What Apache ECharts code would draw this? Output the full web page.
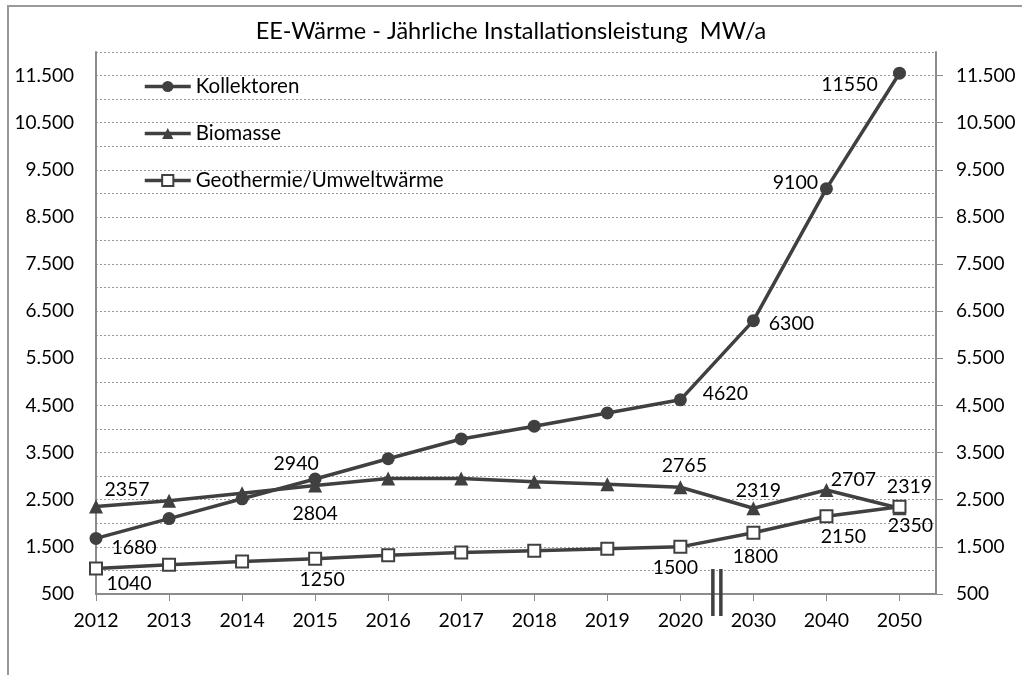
<!DOCTYPE html>
<html>
<head>
<meta charset="utf-8">
<script src="https://cdn.jsdelivr.net/npm/echarts@6/dist/echarts.min.js"></script>
<style>
  html, body { margin: 0; padding: 0; background: #fff; }
  #chart { width: 1022px; height: 675px; }
</style>
</head>
<body>
<div id="chart"></div>
<script>
const years = ['2012', '2013', '2014', '2015', '2016', '2017', '2018', '2019', '2020', '2030', '2040', '2050'];
const kollektoren = [1680, 2100, 2520, 2940, 3370, 3790, 4060, 4340, 4620, 6300, 9100, 11550];
const biomasse = [2357, 2480, 2640, 2804, 2950, 2950, 2880, 2830, 2765, 2319, 2707, 2319];
const geothermie = [1040, 1120, 1190, 1250, 1320, 1380, 1420, 1460, 1500, 1800, 2150, 2350];
const yLabelValues = [500, 1500, 2500, 3500, 4500, 5500, 6500, 7500, 8500, 9500, 10500, 11500];

// where the value labels sit, relative to the marker (px)
const kollLabels = { 0: [38, 9], 3: [-19, -15], 8: [45, -6], 9: [38, 3], 10: [-31, -6], 11: [-50, 12] };
const bioLabels = { 0: [31, -17], 3: [0, 28], 8: [4, -22], 9: [5, -18], 10: [27, -10], 11: [10, -22] };
const geoLabels = { 0: [33, 15], 3: [7, 21], 8: [-5, 21], 9: [2, 24], 10: [17, 20], 11: [11, 19] };

const FONT = 'Lato';
const DARK = '#404040';
const AXIS = '#8c8c8c';

function fmt(v) {
  return String(v).replace(/\B(?=(\d{3})+(?!\d))/g, '.');
}

function buildData(values, labels) {
  return values.map((v, i) => {
    const item = { value: [i, v] };
    if (labels[i]) {
      item.label = { show: true, position: 'inside', offset: labels[i] };
    }
    return item;
  });
}

const myChart = echarts.init(document.getElementById('chart'));

const labelStyle = { color: '#000', fontSize: 19.5, fontFamily: FONT };

const option = {
  animation: false,
  title: {
    text: 'EE-Wärme - Jährliche Installationsleistung  MW/a',
    left: 'center',
    top: 14,
    textStyle: { fontFamily: FONT, fontSize: 23.5, fontWeight: 'normal', color: '#000' },
  },
  legend: {
    orient: 'vertical',
    left: 138,
    top: 71,
    itemWidth: 46,
    itemHeight: 14,
    itemGap: 26,
    lineStyle: { width: 3.5 },
    textStyle: { fontFamily: FONT, fontSize: 20.5, color: '#000' },
    data: ['Kollektoren', 'Biomasse', 'Geothermie/Umweltwärme'],
  },
  grid: { left: 96, right: 86, top: 52, bottom: 81 },
  xAxis: {
    type: 'value',
    min: 0,
    max: 11.5,
    interval: 1,
    axisLine: { lineStyle: { color: AXIS, width: 2 } },
    axisTick: {
      show: true,
      length: 7,
      lineStyle: { color: AXIS },
      customValues: years.map((y, i) => i),
    },
    axisLabel: {
      margin: 17,
      fontFamily: FONT,
      fontSize: 19.5,
      color: '#000',
      customValues: years.map((y, i) => i),
      formatter: (v) => years[v],
    },
    splitLine: { show: false },
  },
  yAxis: [
    {
      type: 'value',
      min: 500,
      max: 12000,
      interval: 500,
      axisLine: { show: true, lineStyle: { color: AXIS, width: 2 } },
      axisTick: { show: false },
      axisLabel: {
        margin: 22,
        fontFamily: FONT,
        fontSize: 19,
        color: '#000',
        customValues: yLabelValues,
        formatter: (v) => fmt(v),
      },
      splitLine: { lineStyle: { color: '#999', type: [2, 2], width: 1 } },
    },
    {
      type: 'value',
      position: 'right',
      min: 500,
      max: 12000,
      interval: 500,
      axisLine: { show: true, lineStyle: { color: AXIS, width: 2 } },
      axisTick: { show: true, length: 7, lineStyle: { color: AXIS }, customValues: yLabelValues },
      axisLabel: {
        margin: 20,
        fontFamily: FONT,
        fontSize: 19,
        color: '#000',
        customValues: yLabelValues,
        formatter: (v) => fmt(v),
      },
      splitLine: { show: false },
    },
  ],
  series: [
    {
      name: 'Kollektoren',
      type: 'line',
      data: buildData(kollektoren, kollLabels),
      symbol: 'circle',
      symbolSize: 13,
      lineStyle: { color: DARK, width: 3.5 },
      itemStyle: { color: DARK },
      label: labelStyle,
      z: 3,
    },
    {
      name: 'Biomasse',
      type: 'line',
      data: buildData(biomasse, bioLabels),
      symbol: 'triangle',
      symbolSize: 14,
      lineStyle: { color: DARK, width: 3.5 },
      itemStyle: { color: DARK },
      label: labelStyle,
      z: 3,
    },
    {
      name: 'Geothermie/Umweltwärme',
      type: 'line',
      data: buildData(geothermie, geoLabels),
      symbol: 'rect',
      symbolSize: 12,
      showAllSymbol: true,
      lineStyle: { color: DARK, width: 3.5 },
      itemStyle: { color: '#fff', borderColor: DARK, borderWidth: 2 },
      label: labelStyle,
      z: 4,
    },
  ],
};

myChart.setOption(option);

// axis break marker between 2020 and 2030, plus chart border
const p = myChart.convertToPixel({ gridIndex: 0 }, [8.5, 500]);
myChart.setOption({
  graphic: [
    {
      type: 'rect',
      shape: { x: 8, y: 6, width: 1100, height: 800 },
      style: { fill: 'none', stroke: '#999', lineWidth: 2 },
      silent: true,
    },
    {
      type: 'line',
      shape: { x1: p[0] - 4, y1: p[1] - 25, x2: p[0] - 4, y2: p[1] + 22 },
      style: { stroke: DARK, lineWidth: 3.5 },
      z: 10,
    },
    {
      type: 'line',
      shape: { x1: p[0] + 4, y1: p[1] - 25, x2: p[0] + 4, y2: p[1] + 22 },
      style: { stroke: DARK, lineWidth: 3.5 },
      z: 10,
    },
  ],
});
</script>
</body>
</html>
